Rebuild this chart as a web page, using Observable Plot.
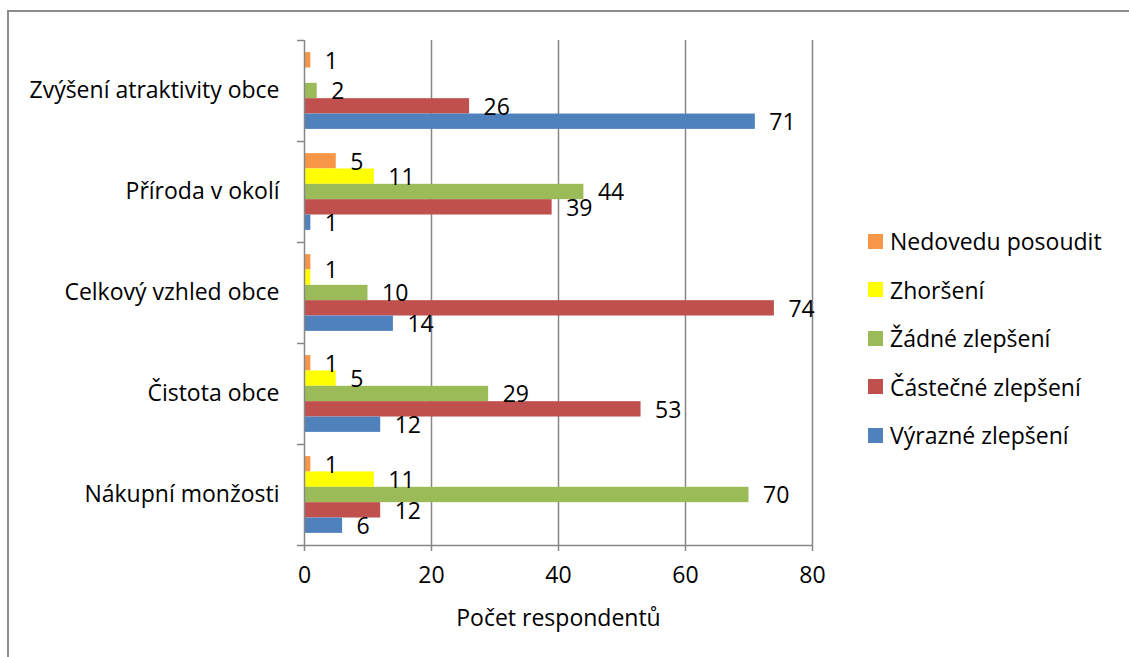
<!DOCTYPE html>
<html>
<head>
<meta charset="utf-8">
<script src="https://cdn.jsdelivr.net/npm/d3@7"></script>
<script src="https://cdn.jsdelivr.net/npm/@observablehq/plot@0.6"></script>
<style>
  html, body { margin: 0; padding: 0; background: #fff; }
  #wrap { position: relative; width: 1129px; height: 657px; overflow: hidden; font-family: "Open Sans", sans-serif; }
  #frame { position: absolute; left: 7px; top: 10px; width: 1200px; height: 700px; border-top: 2px solid #8c8c8c; border-left: 2px solid #8c8c8c; box-sizing: border-box; }
  #chart { position: absolute; left: 0; top: 0; }
  #legend { position: absolute; left: 868px; top: 217px; }
  .row { display: flex; align-items: center; height: 48.5px; font-size: 23px; color: #000; white-space: nowrap; }
  .sw { width: 15px; height: 15px; margin-right: 7px; flex: none; }
</style>
</head>
<body>
<div id="wrap">
  <div id="frame"></div>
  <div id="chart"></div>
  <div id="legend"></div>
</div>
<script>
const categories = ["Zvýšení atraktivity obce", "Příroda v okolí", "Celkový vzhled obce", "Čistota obce", "Nákupní monžosti"];
const seriesNames = ["Nedovedu posoudit", "Zhoršení", "Žádné zlepšení", "Částečné zlepšení", "Výrazné zlepšení"];
const seriesColors = ["#F79646", "#FFFF00", "#9BBB59", "#C0504D", "#4F81BD"];
const nedovedu = [1, 5, 1, 1, 1];
const zhorseni = [null, 11, 1, 5, 11];
const zadne = [2, 44, 10, 29, 70];
const castecne = [26, 39, 74, 53, 12];
const vyrazne = [71, 1, 14, 12, 6];
const xTicks = [0, 20, 40, 60, 80];
const xLabel = "Počet respondentů";

const seriesValues = [nedovedu, zhorseni, zadne, castecne, vyrazne];
const barFrac = 0.152;
const outerFrac = (1 - seriesNames.length * barFrac) / 2;

const rows = [];
categories.forEach((c, i) => {
  seriesNames.forEach((s, j) => {
    const v = seriesValues[j][i];
    if (v == null) return;
    const y1 = i + outerFrac + j * barFrac;
    rows.push({category: c, series: s, value: v, y1, y2: y1 + barFrac, ym: y1 + barFrac / 2});
  });
});

// value labels; two adjacent identical tiny values share one label (as in the original chart)
const labels = [];
rows.forEach(r => {
  const prev = labels[labels.length - 1];
  if (prev && prev.category === r.category && prev.value === r.value && r.value < 3 && !prev.merged) {
    prev.ym = (prev.ym + r.ym) / 2;
    prev.merged = true;
  } else {
    labels.push({category: r.category, value: r.value, ym: r.ym});
  }
});

const grey = "#868686";
const font = "Open Sans, sans-serif";
const fs = 23;

const chart = Plot.plot({
  width: 1129,
  height: 657,
  marginLeft: 304,
  marginRight: 317,
  marginTop: 40,
  marginBottom: 112,
  style: {fontFamily: font, fontSize: fs + "px", color: "#000", background: "transparent"},
  x: {domain: [0, 80], axis: null},
  y: {domain: [0, 5], reverse: true, axis: null},
  color: {domain: seriesNames, range: seriesColors},
  marks: [
    Plot.gridX(xTicks.slice(1), {stroke: grey, strokeOpacity: 1, strokeWidth: 1.5}),
    Plot.rect(rows, {x1: d => 0, x2: "value", y1: "y1", y2: "y2", fill: "series"}),
    Plot.text(labels, {x: "value", y: "ym", text: d => String(d.value), textAnchor: "start", dx: 14, dy: 1, fill: "#000", fontSize: fs}),
    Plot.ruleX([0], {stroke: grey, strokeWidth: 1.5}),
    Plot.ruleY([5], {x1: d => 0, x2: d => 80, stroke: grey, strokeWidth: 1.5}),
    Plot.axisY(d3.range(categories.length + 1), {tickSize: 7, tickFormat: () => "", stroke: grey, strokeWidth: 1.5, strokeOpacity: 1, label: null}),
    Plot.axisY(d3.range(categories.length).map(i => i + 0.5), {tickSize: 0, tickPadding: 25, tickFormat: v => categories[Math.floor(v)], fontSize: fs, fill: "#000", label: null}),
    Plot.axisX(xTicks, {tickSize: 6, tickPadding: 15, stroke: grey, strokeWidth: 1.5, strokeOpacity: 1, fontSize: fs, fill: "#000", label: null}),
    Plot.text([xLabel], {frameAnchor: "bottom", dy: 73, lineAnchor: "middle", fontSize: fs, fill: "#000"})
  ]
});
document.getElementById("chart").appendChild(chart);

const legend = document.getElementById("legend");
seriesNames.forEach((s, j) => {
  const row = document.createElement("div");
  row.className = "row";
  const sw = document.createElement("div");
  sw.className = "sw";
  sw.style.background = seriesColors[j];
  const t = document.createElement("span");
  t.textContent = s;
  row.appendChild(sw);
  row.appendChild(t);
  legend.appendChild(row);
});
</script>
</body>
</html>
